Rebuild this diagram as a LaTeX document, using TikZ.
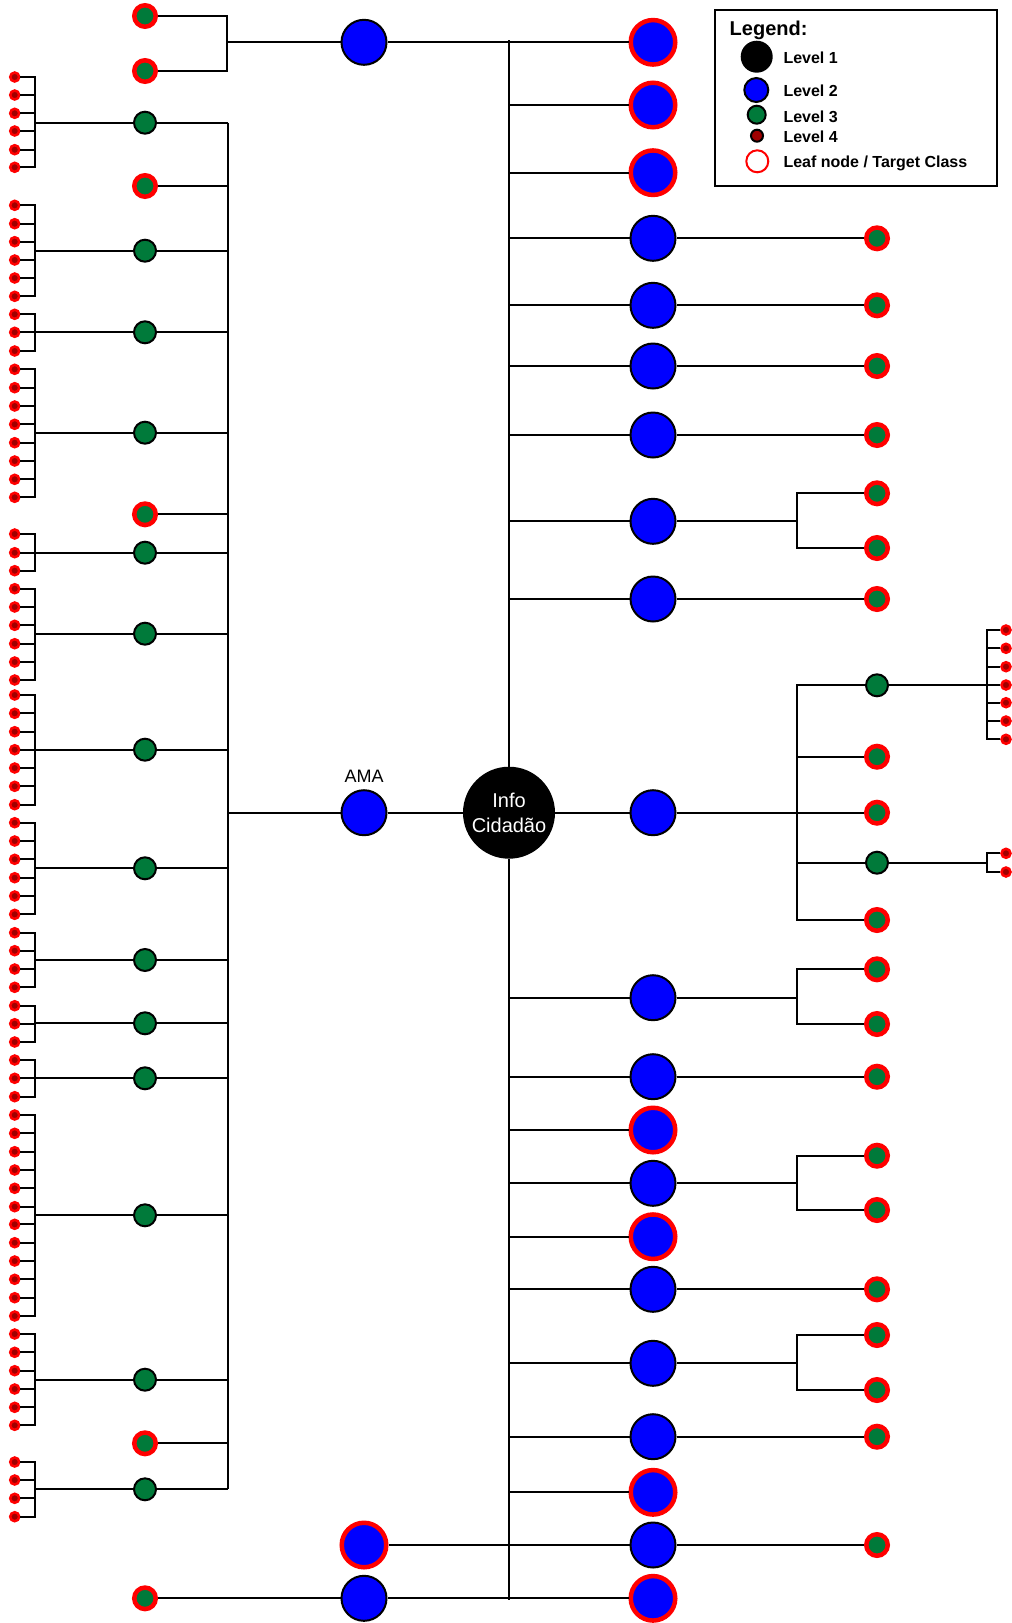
\documentclass[tikz,border=0pt]{standalone}
\usepackage{fontspec}
\setmainfont{Liberation Sans}
\definecolor{lgreen}{RGB}{0,122,58}
\definecolor{ldred}{RGB}{160,0,0}
\definecolor{lblue}{RGB}{0,0,255}
\definecolor{lred}{RGB}{255,0,0}
\tikzset{
  conn/.style={draw=black,line width=2pt},
  lvone/.style={circle,fill=black,minimum size=92pt,inner sep=0pt,text=white,align=center,font=\fontsize{20}{25}\selectfont},
  lvtwo/.style={circle,fill=lblue,draw=black,line width=2pt,minimum size=45pt,inner sep=0pt},
  lvtwoleaf/.style={circle,fill=lblue,draw=lred,line width=4.5pt,minimum size=44.5pt,inner sep=0pt},
  lvthree/.style={circle,fill=lgreen,draw=black,line width=2pt,minimum size=22pt,inner sep=0pt},
  lvthreeleaf/.style={circle,fill=lgreen,draw=lred,line width=4.5pt,minimum size=21.5pt,inner sep=0pt},
  lvfour/.style={circle,fill=ldred,draw=lred,line width=2.5pt,minimum size=9pt,inner sep=0pt},
  legtext/.style={anchor=base west,inner sep=0pt,font=\bfseries\fontsize{16}{19}\selectfont},
}
% level-3 node on the left with its level-4 children
\newcommand\leftgroup[3]{%
  \node[lvthree] (#1) at (145,#2) {};
  \draw[conn] (#1) -- (#1 -| lsTop);
  \draw[conn] (#1) -- (#1 -| lbx);
  \foreach \yy [count=\k] in {#3} {
    \node[lvfour] (#1l\k) at (14.7,\yy) {};
    \draw[conn] (#1 -| lbx) |- (#1l\k);
  }
}
% level-3 node on the right with its level-4 children
\newcommand\rightgroup[3]{%
  \node[lvthree] (#1) at (877,#2) {};
  \draw[conn] (#1) -- (#1 -| rfx);
  \foreach \yy [count=\k] in {#3} {
    \node[lvfour] (#1l\k) at (1006,\yy) {};
    \draw[conn] (#1 -| rfx) |- (#1l\k);
  }
}
\begin{document}
\begin{tikzpicture}[x=1pt,y=-1pt]
\useasboundingbox (0,0) rectangle (1012,1623);

% guide coordinates
\coordinate (sTop) at (509,40);
\coordinate (sBot) at (509,1600);
\coordinate (lsTop) at (228,122.7);
\coordinate (lsBot) at (228,1489.3);
\coordinate (lbx) at (35,0);
\coordinate (tbx) at (227,0);
\coordinate (rbx) at (797,0);
\coordinate (rfx) at (987,0);

% root
\node[lvone] (root) at (509,812.7) {Info\\Cidad\~ao};
\draw[conn] (root) -- (sTop);
\draw[conn] (root) -- (sBot);

% AMA branch
\node[lvtwo] (ama) at (364,812.7) {};
\node[font=\fontsize{18}{22}\selectfont] (amalabel) at (364,776) {AMA};
\draw[conn] (ama) -- (root);
\draw[conn] (ama) -- (ama -| lsTop);
\draw[conn] (lsTop) -- (lsBot);

\leftgroup{ga}{122.7}{77,95,113.3,131,149.7,167.3}
\node[lvthreeleaf] (gla) at (145,186) {};
\draw[conn] (gla) -- (gla -| lsTop);
\leftgroup{gb}{250.7}{205.3,223.7,241.7,260,278,296.3}
\leftgroup{gc}{332.3}{314.3,332.3,351}
\leftgroup{gd}{432.7}{369.3,387.7,406,424.3,442.7,461,479.3,497.3}
\node[lvthreeleaf] (glb) at (145,514.3) {};
\draw[conn] (glb) -- (glb -| lsTop);
\leftgroup{ge}{552.7}{534,552.7,570.7}
\leftgroup{gf}{633.7}{588.7,607,625.3,643.7,662,680}
\leftgroup{gg}{749.7}{695,713.3,731.7,749.7,768,786.3,804.7}
\leftgroup{gh}{868.3}{822.7,841,859.3,877.7,896,914.3}
\leftgroup{gi}{960}{932.7,950.7,969,987.3}
\leftgroup{gj}{1023.3}{1005.7,1023.7,1042}
\leftgroup{gk}{1078.3}{1060,1078.3,1096.7}
\leftgroup{gl}{1215.3}{1115,1133.3,1151.7,1170,1188.3,1206.7,1224.3,1242.7,1261,1279.3,1297.7,1316}
\leftgroup{gm}{1379.7}{1334,1352.3,1370.7,1389,1407.3,1425.3}
\node[lvthreeleaf] (glc) at (145,1443.3) {};
\draw[conn] (glc) -- (glc -| lsTop);
\leftgroup{gn}{1489.3}{1462,1480,1498.3,1516.7}

% level-2 nodes on the right
\node[lvtwoleaf] (R1) at (653,42.3) {};
\node[lvtwoleaf] (R2) at (653,105) {};
\node[lvtwoleaf] (R3) at (653,172.7) {};
\node[lvtwo] (R4) at (653,238.3) {};
\node[lvtwo] (R5) at (653,305.3) {};
\node[lvtwo] (R6) at (653,366) {};
\node[lvtwo] (R7) at (653,435) {};
\node[lvtwo] (R8) at (653,521.3) {};
\node[lvtwo] (R9) at (653,599) {};
\node[lvtwo] (R10) at (653,812.7) {};
\node[lvtwo] (R11) at (653,997.7) {};
\node[lvtwo] (R12) at (653,1076.7) {};
\node[lvtwoleaf] (R13) at (653,1130) {};
\node[lvtwo] (R14) at (653,1183.3) {};
\node[lvtwoleaf] (R15) at (653,1236.7) {};
\node[lvtwo] (R16) at (653,1289.3) {};
\node[lvtwo] (R17) at (653,1363.3) {};
\node[lvtwo] (R18) at (653,1436.7) {};
\node[lvtwoleaf] (R19) at (653,1492.3) {};
\node[lvtwo] (R20) at (653,1545) {};
\node[lvtwoleaf] (R21) at (653,1598.3) {};
\foreach \n in {2,...,19} {
  \draw[conn] (R\n -| root) -- (R\n);
}

% top-left level-2 node
\node[lvtwo] (T) at (364,42.3) {};
\node[lvthreeleaf] (Ta) at (145,16) {};
\node[lvthreeleaf] (Tb) at (145,71) {};
\draw[conn] (T) -- (R1);
\draw[conn] (T) -- (T -| tbx);
\draw[conn] (T -| tbx) |- (Ta);
\draw[conn] (T -| tbx) |- (Tb);

% bottom-left level-2 nodes
\node[lvtwoleaf] (B1) at (364,1545) {};
\node[lvtwo] (B2) at (364,1598.3) {};
\node[lvthreeleaf] (B2a) at (145,1598.3) {};
\draw[conn] (B1) -- (R20);
\draw[conn] (B2) -- (R21);
\draw[conn] (B2a) -- (B2);

% single children on the right
\foreach \n/\y in {4/238.3,5/305.3,6/366,7/435,9/599,12/1076.7,16/1289.3,18/1436.7,20/1545} {
  \node[lvthreeleaf] (R\n a) at (877,\y) {};
  \draw[conn] (R\n) -- (R\n a);
}

% two-child branches on the right
\foreach \n/\ya/\yb in {8/493.3/548,11/969.3/1024,14/1155.7/1210,17/1335/1390} {
  \node[lvthreeleaf] (R\n a) at (877,\ya) {};
  \node[lvthreeleaf] (R\n b) at (877,\yb) {};
  \draw[conn] (R\n) -- (R\n -| rbx);
  \draw[conn] (R\n -| rbx) |- (R\n a);
  \draw[conn] (R\n -| rbx) |- (R\n b);
}

% the large branch under the central level-2 node
\draw[conn] (R10) -- (R10 -| rbx);
\rightgroup{R10a}{685.3}{630,648.3,666.7,685,702.7,721,739.3}
\node[lvthreeleaf] (R10b) at (877,756.7) {};
\node[lvthreeleaf] (R10c) at (877,812.7) {};
\rightgroup{R10d}{862.7}{853.3,872}
\node[lvthreeleaf] (R10e) at (877,920) {};
\foreach \c in {a,b,c,d,e} {
  \draw[conn] (R10 -| rbx) |- (R10\c);
}

% legend
\draw[line width=2.3pt] (715,10) rectangle (997,186);
\node[anchor=base west,inner sep=0pt,font=\bfseries\fontsize{20}{24}\selectfont] (ltitle) at (729.5,35) {Legend:};
\node[circle,fill=black,minimum size=32pt,inner sep=0pt] (kone) at (756.7,56.7) {};
\node[lvtwo,minimum size=24pt] (ktwo) at (756.3,90) {};
\node[lvthree,minimum size=18pt] (kthree) at (756.7,114.7) {};
\node[circle,fill=ldred,draw=black,line width=2pt,minimum size=12pt,inner sep=0pt] (kfour) at (757,135.7) {};
\node[circle,fill=white,draw=lred,line width=2pt,minimum size=22pt,inner sep=0pt] (kleaf) at (757.3,161.3) {};
\node[legtext] (tone) at (783.3,63.3) {Level 1};
\node[legtext] (ttwo) at (783.3,96) {Level 2};
\node[legtext] (tthree) at (783.3,122) {Level 3};
\node[legtext] (tfour) at (783.3,142) {Level 4};
\node[legtext] (tleaf) at (783.3,167.3) {Leaf node / Target Class};
\end{tikzpicture}
\end{document}
